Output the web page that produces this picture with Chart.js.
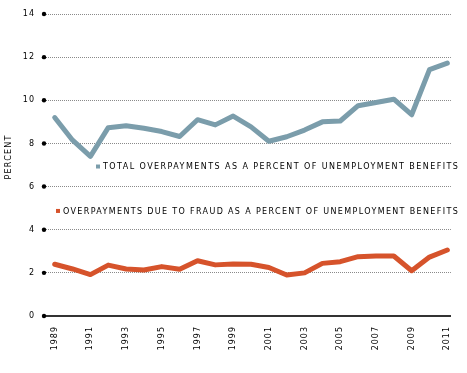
<!DOCTYPE html>
<html>
<head>
<meta charset="utf-8">
<script src="https://cdn.jsdelivr.net/npm/chart.js@4"></script>
<style>
  html, body { margin: 0; padding: 0; background: #fff; }
  #wrap { width: 467px; height: 373px; position: relative; }
</style>
</head>
<body>
<div id="wrap"><canvas id="chart"></canvas></div>
<script>
// Data
const years = [1989,1990,1991,1992,1993,1994,1995,1996,1997,1998,1999,2000,
               2001,2002,2003,2004,2005,2006,2007,2008,2009,2010,2011];
const totalPct = [9.2,8.15,7.4,8.73,8.82,8.7,8.55,8.32,9.1,8.86,9.27,8.77,
                  8.1,8.31,8.62,9.0,9.04,9.75,9.9,10.05,9.33,11.42,11.72];
const fraudPct = [2.4,2.18,1.92,2.36,2.18,2.13,2.29,2.17,2.56,2.37,2.41,2.4,
                  2.25,1.9,2.0,2.44,2.52,2.75,2.78,2.78,2.1,2.73,3.06];
const yearTicks = [1989,1991,1993,1995,1997,1999,2001,2003,2005,2007,2009,2011];
const pctTicks = [0,2,4,6,8,10,12,14];

const legendTotal = 'TOTAL OVERPAYMENTS AS A PERCENT OF UNEMPLOYMENT BENEFITS';
const legendFraud = 'OVERPAYMENTS DUE TO FRAUD AS A PERCENT OF UNEMPLOYMENT BENEFITS';

const COLORS = {
  total: '#7b9dab',
  fraud: '#d6532b',
  grid: '#8a8a8a',
  axis: '#333333',
  text: '#000000'
};
const FONT = '"DejaVu Sans", sans-serif';

// letter-spaced text everywhere, like the original pixel font
const spacing = {
  id: 'spacing',
  beforeDraw(chart){ chart.ctx.letterSpacing = '1px'; }
};

// black dots at the left end of each grid line, axis title and inline legend
const extras = {
  id: 'extras',
  afterDatasetsDraw(chart){
    const {ctx, chartArea, scales} = chart;
    ctx.save();
    ctx.fillStyle = '#000';
    pctTicks.forEach(v => {
      ctx.beginPath();
      ctx.arc(chartArea.left, scales.y.getPixelForValue(v), 2.2, 0, Math.PI*2);
      ctx.fill();
    });

    // y title
    ctx.save();
    ctx.translate(9, 157);
    ctx.rotate(-Math.PI/2);
    ctx.font = '8px ' + FONT;
    ctx.letterSpacing = '1.2px';
    ctx.fillStyle = COLORS.text;
    ctx.textAlign = 'center';
    ctx.textBaseline = 'middle';
    ctx.fillText('PERCENT', 0, 0);
    ctx.restore();

    // legends, stretched to the width they have in the picture
    const drawLegend = (text, color, left, right, value) => {
      const y = scales.y.getPixelForValue(value);
      ctx.fillStyle = color;
      ctx.fillRect(left - 7, y - 2, 4, 4);
      ctx.font = '8px ' + FONT;
      ctx.letterSpacing = '0px';
      const w = ctx.measureText(text).width;
      const ls = (right - left - w) / (text.length - 1);
      ctx.letterSpacing = ls.toFixed(2) + 'px';
      ctx.fillStyle = COLORS.text;
      ctx.textAlign = 'left';
      ctx.textBaseline = 'middle';
      ctx.fillText(text, left, y + 0.5);
    };
    drawLegend(legendTotal, COLORS.total, 103, 458, 6.93);
    drawLegend(legendFraud, COLORS.fraud, 63, 458, 4.87);
    ctx.restore();
  }
};

new Chart(document.getElementById('chart'), {
  type: 'line',
  data: {
    datasets: [
      {
        label: legendTotal,
        data: years.map((yr, i) => ({x: yr, y: totalPct[i]})),
        borderColor: COLORS.total,
        borderWidth: 5,
        pointRadius: 0,
        tension: 0,
        borderJoinStyle: 'round',
        borderCapStyle: 'round'
      },
      {
        label: legendFraud,
        data: years.map((yr, i) => ({x: yr, y: fraudPct[i]})),
        borderColor: COLORS.fraud,
        borderWidth: 5,
        pointRadius: 0,
        tension: 0,
        borderJoinStyle: 'round',
        borderCapStyle: 'round'
      }
    ]
  },
  options: {
    responsive: true,
    maintainAspectRatio: false,
    animation: false,
    layout: { padding: { top: 14, right: 7, left: 0, bottom: 0 } },
    plugins: {
      legend: { display: false },
      tooltip: { enabled: false }
    },
    scales: {
      x: {
        type: 'linear',
        min: 1988.4,
        max: 2011.2,
        afterBuildTicks: s => { s.ticks = yearTicks.map(v => ({value: v})); },
        afterFit: s => { s.height = 57; },
        grid: { display: false, drawTicks: false },
        border: { display: true, color: COLORS.axis, width: 2 },
        ticks: {
          callback: v => String(v),
          minRotation: 90,
          maxRotation: 90,
          autoSkip: false,
          padding: 10,
          color: COLORS.text,
          font: { family: FONT, size: 8 }
        }
      },
      y: {
        min: 0,
        max: 14,
        afterBuildTicks: s => { s.ticks = pctTicks.map(v => ({value: v})); },
        afterFit: s => { s.width = 44; },
        border: { display: false, dash: [1, 1] },
        grid: {
          drawTicks: false,
          color: c => c.tick && c.tick.value === 0 ? 'rgba(0,0,0,0)' : COLORS.grid,
          lineWidth: 1
        },
        ticks: {
          padding: 9,
          color: COLORS.text,
          font: { family: FONT, size: 8 }
        }
      }
    }
  },
  plugins: [spacing, extras]
});
</script>
</body>
</html>
